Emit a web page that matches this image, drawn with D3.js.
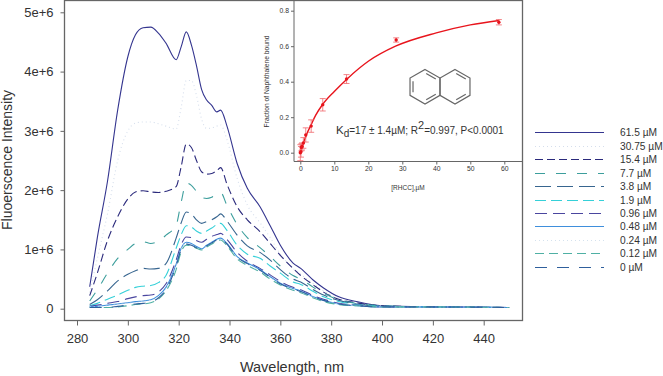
<!DOCTYPE html>
<html>
<head>
<meta charset="utf-8">
<script src="https://cdn.jsdelivr.net/npm/d3@7"></script>
<style>
  html, body { margin: 0; padding: 0; background: #fff; }
  text { font-family: "Liberation Sans", Arial, sans-serif; fill: #333; }
  .domain, .tick line { stroke: #666; }
</style>
</head>
<body>
<svg id="chart" width="663" height="376"></svg>
<script>
var wavelengths = [285,288,292,296,300,303,306,309,312,315,319,321,323,325,327,329,331,333,335,336.5,339,343,347,352,356,360,365,368,373,377,383,390,400,420,450];

// intensities in units of 1e6, one array per concentration
var s615 = [.37,1.2,2.15,3.35,4.25,4.62,4.74,4.75,4.65,4.48,4.2,4.42,4.67,4.45,4.1,3.7,3.52,3.43,3.32,3.35,3.08,2.45,2.03,1.72,1.4,1.07,.77,.68,.48,.35,.2,.12,.05,.03,.02];
var s3075 = [.27,.85,1.6,2.5,3.0,3.13,3.15,3.15,3.12,3.08,3.03,3.4,3.85,3.85,3.6,3.2,3.04,3.05,3.08,3.1,2.85,2.2,1.75,1.45,1.2,.92,.68,.58,.42,.3,.17,.1,.05,.03,.02];
var s154 = [.22,.6,1.15,1.55,1.85,1.97,1.99,1.97,1.96,1.98,2.06,2.4,2.78,2.72,2.5,2.31,2.27,2.28,2.33,2.38,2.1,1.72,1.5,1.3,1.1,.9,.68,.56,.4,.28,.16,.1,.05,.03,.02];
var s77 = [.13,.32,.6,.85,1.0,1.1,1.13,1.1,1.14,1.24,1.41,1.8,2.12,2.08,1.98,1.88,1.86,1.88,1.93,1.96,1.74,1.42,1.2,1.03,.88,.72,.56,.5,.36,.26,.15,.09,.05,.03,.02];
var s38 = [.07,.15,.3,.47,.58,.64,.68,.67,.68,.76,1.19,1.45,1.63,1.6,1.5,1.44,1.47,1.5,1.55,1.6,1.48,1.24,1.06,.95,.82,.66,.5,.45,.32,.23,.14,.08,.04,.03,.02];
var s19 = [.05,.09,.16,.23,.31,.36,.38,.39,.44,.56,1.02,1.25,1.4,1.38,1.31,1.27,1.31,1.36,1.42,1.44,1.32,1.07,.92,.85,.72,.6,.45,.41,.29,.2,.12,.07,.04,.03,.02];
var s096 = [.04,.06,.09,.12,.17,.2,.22,.23,.28,.42,.82,1.08,1.21,1.2,1.15,1.12,1.17,1.22,1.25,1.27,1.17,.95,.8,.68,.57,.46,.36,.32,.22,.16,.09,.06,.03,.03,.02];
var s048 = [.03,.04,.06,.08,.1,.12,.13,.15,.22,.36,.75,1.02,1.12,1.1,1.05,1.01,1.07,1.12,1.17,1.19,1.1,.88,.77,.66,.54,.43,.34,.3,.2,.14,.08,.05,.03,.03,.02];
var s024 = [.03,.03,.05,.07,.09,.1,.12,.14,.2,.34,.72,1.0,1.1,1.08,1.03,1.0,1.05,1.1,1.15,1.17,1.08,.86,.75,.64,.52,.42,.33,.29,.19,.13,.08,.05,.03,.03,.02];
var s012 = [.02,.02,.02,.03,.05,.07,.08,.1,.16,.3,.66,.96,1.07,1.06,1.02,.99,1.04,1.09,1.14,1.16,1.06,.84,.73,.62,.5,.4,.31,.27,.18,.12,.07,.05,.03,.03,.02];
var s0 = [.02,.02,.02,.04,.06,.08,.09,.11,.18,.32,.72,1.0,1.09,1.07,1.03,1.0,1.06,1.11,1.16,1.18,1.09,.87,.76,.65,.53,.42,.33,.29,.2,.14,.08,.05,.03,.03,.02];

var seriesValues = [s615, s3075, s154, s77, s38, s19, s096, s048, s024, s012, s0];
var seriesLabels = ['61.5 µM','30.75 µM','15.4 µM','7.7 µM','3.8 µM','1.9 µM','0.96 µM','0.48 µM','0.24 µM','0.12 µM','0 µM'];
var seriesColors = ['#34358f','#d5deec','#2b2a7c','#3c9e9c','#37658f','#35d0d8','#4a469f','#3f8fdc','#d5e2ee','#4fb0a4','#2f5f9c'];
var seriesDashes = [null,'1 3','8 4','10 11','16 6','11 5','12 6',null,'1 3','9 5','12 10'];

var xTicks = [280,300,320,340,360,380,400,420,440];
var yTicks = [0,1,2,3,4,5];

// inset binding data
var insetX = [0,.2,.3,.5,.9,1.6,3.2,6.6,13.6,28.2,58.4];
var insetY = [0,.005,.03,.035,.055,.1,.15,.27,.415,.635,.735];
var insetErr = [.045,.03,.02,.02,.03,.04,.035,.035,.025,.012,.015];
var fitX = [0,1,2,3,4.5,6.5,10,14,20,28,40,50,58.5];
var fitY = [0,.06,.11,.15,.21,.27,.345,.42,.515,.60,.675,.72,.745];
var insetXTicks = [0,10,20,30,40,50,60];
var insetYTicks = [0,.2,.4,.6,.8];

var svg = d3.select('#chart');

var x = d3.scaleLinear().domain([280, 440]).range([77, 483.7]);
var y = d3.scaleLinear().domain([0, 5]).range([308.7, 12.3]);

// plot frame
svg.append('rect')
  .attr('x', 64.5).attr('y', 0.5)
  .attr('width', 458).attr('height', 320)
  .attr('fill', 'none').attr('stroke', '#666').attr('stroke-width', 1.3);

var xAxis = svg.append('g')
  .attr('transform', 'translate(0,320.5)')
  .call(d3.axisBottom(x).tickValues(xTicks).tickSize(5).tickPadding(8));
xAxis.select('.domain').remove();
xAxis.selectAll('text').style('font-size', '13px');

var yAxis = svg.append('g')
  .attr('transform', 'translate(64.5,0)')
  .call(d3.axisLeft(y).tickValues(yTicks).tickSize(4).tickPadding(7)
    .tickFormat(function(d){ return d === 0 ? '0' : d + 'e+6'; }));
yAxis.select('.domain').remove();
yAxis.selectAll('text').style('font-size', '13px');

svg.append('text')
  .attr('x', 292).attr('y', 372)
  .attr('text-anchor', 'middle')
  .style('font-size', '14.5px')
  .text('Wavelength, nm');

svg.append('text')
  .attr('transform', 'translate(12,160) rotate(-90)')
  .attr('text-anchor', 'middle')
  .style('font-size', '14px')
  .text('Fluoerscence Intensity');

var line = d3.line()
  .x(function(d, i){ return x(wavelengths[i]); })
  .y(function(d){ return y(d); })
  .curve(d3.curveMonotoneX);

svg.append('g').selectAll('path')
  .data(seriesValues)
  .enter().append('path')
  .attr('d', line)
  .attr('fill', 'none')
  .attr('stroke', function(d, i){ return seriesColors[i]; })
  .attr('stroke-width', 1.1)
  .attr('stroke-dasharray', function(d, i){ return seriesDashes[i]; });

// legend, rows snapped to the pixel grid so thin lines keep their colour
var legendY = d3.scalePoint().domain(seriesLabels).range([132.3, 266.7]);
var legend = svg.append('g').selectAll('g')
  .data(seriesLabels)
  .enter().append('g')
  .attr('transform', function(d){ return 'translate(0,' + (Math.round(legendY(d)) + 0.5) + ')'; });
legend.append('line')
  .attr('x1', 535).attr('x2', 604)
  .attr('stroke', function(d, i){ return seriesColors[i]; })
  .attr('stroke-width', 1.2)
  .attr('stroke-dasharray', function(d, i){ return seriesDashes[i]; });
legend.append('text')
  .attr('x', 620).attr('dy', '0.35em')
  .style('font-size', '10.2px')
  .text(function(d){ return d; });

// inset
var ix = d3.scaleLinear().domain([0, 60]).range([300.3, 504.3]);
var iy = d3.scaleLinear().domain([0, .8]).range([152.7, 10.7]);

var inset = svg.append('g');

var ixAxis = inset.append('g')
  .attr('transform', 'translate(0,161.5)')
  .call(d3.axisBottom(ix).tickValues(insetXTicks).tickSize(3).tickPadding(2));
ixAxis.select('.domain').attr('d', 'M294,0H522');
ixAxis.selectAll('text').style('font-size', '6.8px');

var iyAxis = inset.append('g')
  .attr('transform', 'translate(294,0)')
  .call(d3.axisLeft(iy).tickValues(insetYTicks).tickSize(3).tickPadding(2).tickFormat(d3.format('.1f')));
iyAxis.select('.domain').attr('d', 'M0,0V161.5');
iyAxis.selectAll('text').style('font-size', '6.8px');

inset.append('text')
  .attr('x', 408).attr('y', 190)
  .attr('text-anchor', 'middle')
  .style('font-size', '6.5px')
  .text('[RHCC],µM');

inset.append('text')
  .attr('transform', 'translate(269,81.5) rotate(-90)')
  .attr('text-anchor', 'middle')
  .style('font-size', '6.7px')
  .text('Fraction of Naphthalene bound');

var fitLine = d3.line()
  .x(function(d){ return ix(d); })
  .y(function(d, i){ return iy(fitY[i]); })
  .curve(d3.curveMonotoneX);

inset.append('path')
  .attr('d', fitLine(fitX))
  .attr('fill', 'none')
  .attr('stroke', '#e8141c')
  .attr('stroke-width', 1.4);

var errs = inset.append('g').selectAll('g')
  .data(insetX)
  .enter().append('g')
  .attr('stroke', '#f0646a')
  .attr('stroke-width', 0.8);
errs.append('line')
  .attr('x1', function(d){ return ix(d); })
  .attr('x2', function(d){ return ix(d); })
  .attr('y1', function(d, i){ return iy(insetY[i] - insetErr[i]); })
  .attr('y2', function(d, i){ return iy(insetY[i] + insetErr[i]); });
[-1, 1].forEach(function(sign){
  errs.append('line')
    .attr('x1', function(d){ return ix(d) - 3; })
    .attr('x2', function(d){ return ix(d) + 3; })
    .attr('y1', function(d, i){ return iy(insetY[i] + sign * insetErr[i]); })
    .attr('y2', function(d, i){ return iy(insetY[i] + sign * insetErr[i]); });
});

inset.append('g').selectAll('circle')
  .data(insetX)
  .enter().append('circle')
  .attr('cx', function(d){ return ix(d); })
  .attr('cy', function(d, i){ return iy(insetY[i]); })
  .attr('r', 1.7)
  .attr('fill', '#e8141c');

// annotation
var note = inset.append('text')
  .attr('x', 336).attr('y', 134)
  .style('font-size', '10px');
note.append('tspan').style('font-size', '11.5px').text('K');
note.append('tspan').attr('dy', 3).style('font-size', '10px').text('d');
note.append('tspan').attr('dy', -3).text('=17 ± 1.4µM; R');
note.append('tspan').attr('dy', -5).style('font-size', '11px').text('2');
note.append('tspan').attr('dy', 5).text('=0.997, P<0.0001');

// naphthalene ring drawing
var hexR = 17.3, hexCy = 86.7;
var ringCx = [425, 455];
var mol = inset.append('g')
  .attr('fill', 'none').attr('stroke', '#666').attr('stroke-width', 1.2);

function ringPoints(cx, r) {
  return d3.range(6).map(function(k){
    var a = Math.PI / 3 * k - Math.PI / 2;
    return [cx + r * Math.cos(a), hexCy + r * Math.sin(a)];
  });
}
ringCx.forEach(function(cx){
  mol.append('path').attr('d', d3.line().curve(d3.curveLinearClosed)(ringPoints(cx, hexR)));
});
// inner double bonds: [ring, start vertex]
var doubleBonds = [[0,4],[0,0],[0,2],[1,0],[1,2]];
doubleBonds.forEach(function(b){
  var pts = ringPoints(ringCx[b[0]], hexR * 0.8);
  var p = pts[b[1]], q = pts[(b[1] + 1) % 6];
  var tx = (q[0] - p[0]) * 0.1, ty = (q[1] - p[1]) * 0.1;
  mol.append('line')
    .attr('x1', p[0] + tx).attr('y1', p[1] + ty)
    .attr('x2', q[0] - tx).attr('y2', q[1] - ty);
});
</script>
</body>
</html>
